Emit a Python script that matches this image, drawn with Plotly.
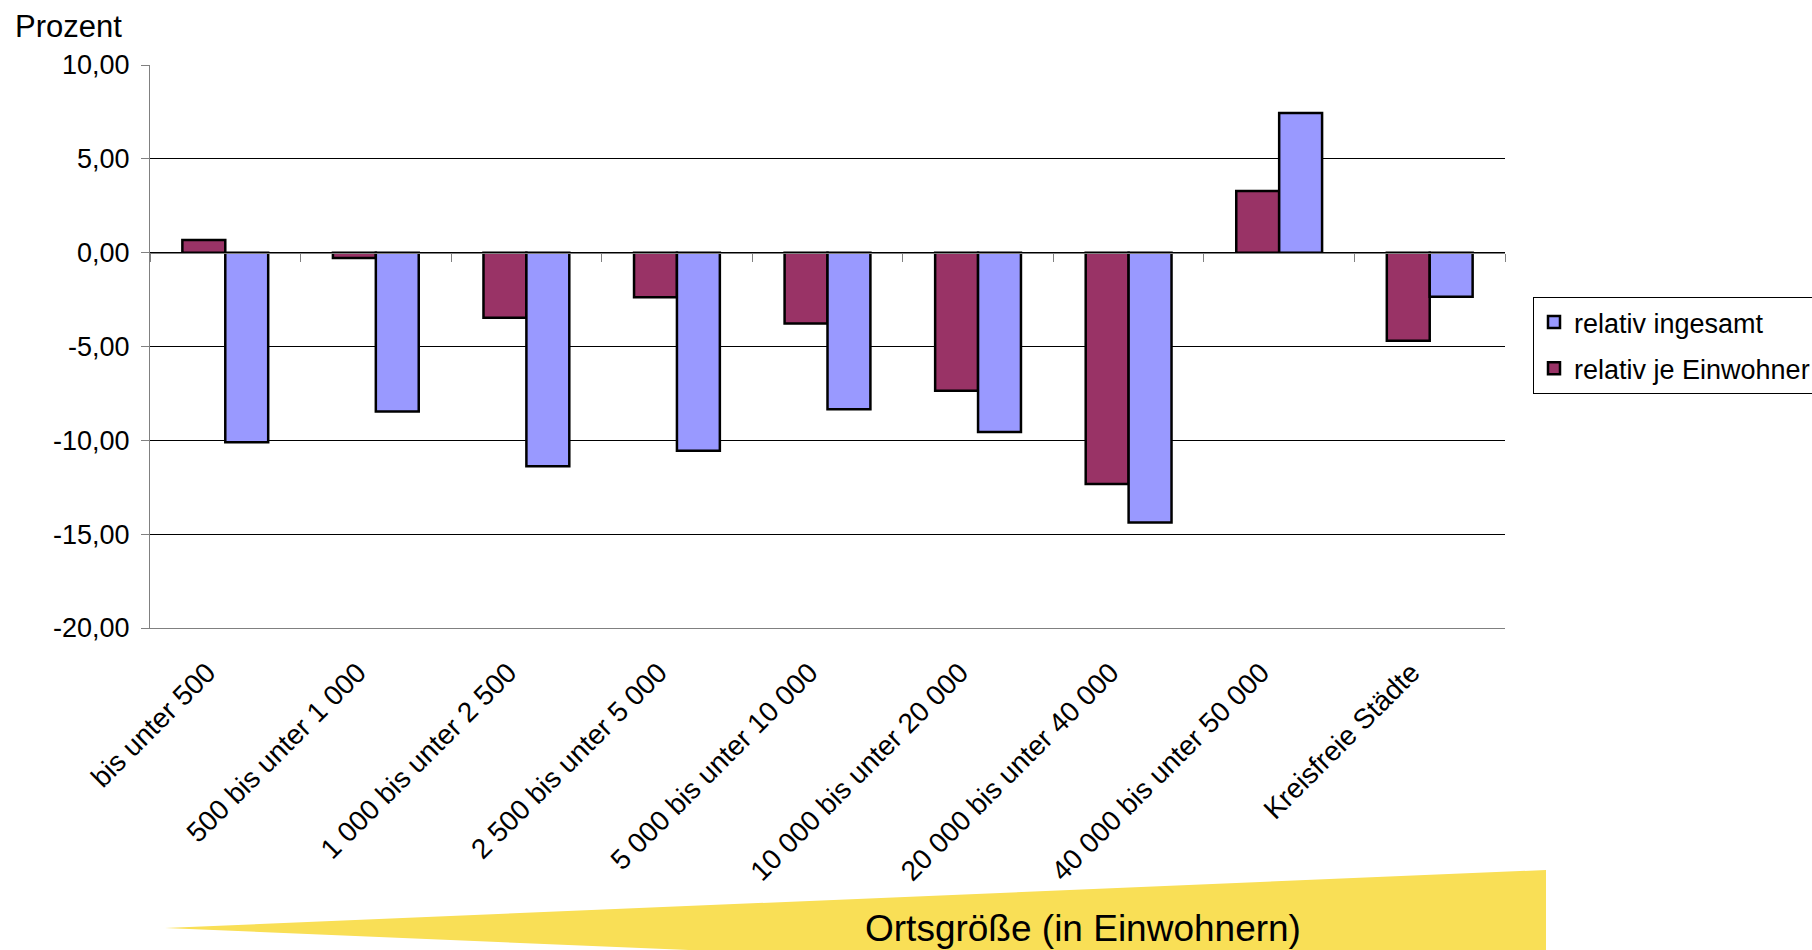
import plotly.graph_objects as go

# Category labels (town size classes)
categories = [
    "bis unter 500",
    "500 bis unter 1 000",
    "1 000 bis unter 2 500",
    "2 500 bis unter 5 000",
    "5 000 bis unter 10 000",
    "10 000 bis unter 20 000",
    "20 000 bis unter 40 000",
    "40 000 bis unter 50 000",
    "Kreisfreie Städte",
]

# Percentage change per series
je_einwohner = [0.68, -0.29, -3.47, -2.38, -3.78, -7.36, -12.33, 3.28, -4.70]
ingesamt = [-10.10, -8.47, -11.38, -10.55, -8.35, -9.55, -14.38, 7.44, -2.35]

# Y axis ticks
y_tickvals = [10, 5, 0, -5, -10, -15, -20]
y_ticktext = ["10,00", "5,00", "0,00", "-5,00", "-10,00", "-15,00", "-20,00"]

W, H = 1812, 950
PLOT_L, PLOT_R, PLOT_T, PLOT_B = 150, 1505, 65, 628
FONT = "Liberation Sans, Arial, sans-serif"


def px(x):
    return (x - PLOT_L) / (PLOT_R - PLOT_L)


def py(y):
    return (PLOT_B - y) / (PLOT_B - PLOT_T)


fig = go.Figure()
fig.add_trace(go.Bar(
    x=categories, y=je_einwohner, name="relativ je Einwohner",
    marker=dict(color="#993366", line=dict(color="#000000", width=2.5)),
    legendgroup="b", legendrank=2,
))
fig.add_trace(go.Bar(
    x=categories, y=ingesamt, name="relativ ingesamt",
    marker=dict(color="#9999FF", line=dict(color="#000000", width=2.5)),
    legendgroup="a", legendrank=1,
))
# invisible helper trace so the category axis through zero gets its ticks
fig.add_trace(go.Scatter(
    x=categories, y=[0] * len(categories), xaxis="x2", mode="markers",
    marker=dict(opacity=0), showlegend=False, hoverinfo="skip",
))

# yellow wedge below the chart with its caption
tip = (165, 928)
top_right = (1546, 870)
bot_right = (1546, 986)
path = "M {} {} L {} {} L {} {} Z".format(
    px(tip[0]), py(tip[1]), px(top_right[0]), py(top_right[1]),
    px(bot_right[0]), py(bot_right[1]))
fig.add_shape(type="path", path=path, xref="paper", yref="paper",
              fillcolor="#F9DF56", line=dict(width=0), layer="below")

fig.add_annotation(text="Ortsgröße (in Einwohnern)", xref="paper", yref="paper",
                   x=px(1083), y=py(928), xanchor="center", yanchor="middle",
                   showarrow=False, font=dict(size=37, color="#000000", family=FONT))
fig.add_annotation(text="Prozent", xref="paper", yref="paper",
                   x=px(13), y=py(26), xanchor="left", yanchor="middle",
                   showarrow=False, font=dict(size=31, color="#000000", family=FONT))

fig.update_layout(
    width=W, height=H,
    margin=dict(l=PLOT_L, r=W - PLOT_R, t=PLOT_T, b=H - PLOT_B, autoexpand=False),
    paper_bgcolor="#FFFFFF", plot_bgcolor="#FFFFFF",
    font=dict(family=FONT, size=27, color="#000000"),
    barmode="group", bargap=0.43, bargroupgap=0,
    showlegend=True,
    legend=dict(
        x=px(1533), y=py(297), xanchor="left", yanchor="top",
        bgcolor="#FFFFFF", bordercolor="#000000", borderwidth=1,
        font=dict(size=27, family=FONT), traceorder="grouped",
        tracegroupgap=8,
    ),
    xaxis=dict(
        type="category", categoryorder="array", categoryarray=categories,
        range=[-0.5, len(categories) - 0.5],
        tickangle=-45, ticks="", showline=True, linecolor="#808080", linewidth=1,
        showgrid=False, tickfont=dict(size=28), ticklabelstandoff=16,
        ticklabelshift=-18,
    ),
    xaxis2=dict(
        type="category", categoryorder="array", categoryarray=categories,
        range=[-0.5, len(categories) - 0.5],
        overlaying="x", anchor="free", position=20 / 30, side="bottom",
        tickson="boundaries", ticks="outside", ticklen=8, tickcolor="#808080",
        showline=True, linecolor="#808080", linewidth=1,
        showticklabels=False, showgrid=False,
    ),
    yaxis=dict(
        range=[-20, 10], tickvals=y_tickvals, ticktext=y_ticktext,
        showgrid=True, gridcolor="#000000", gridwidth=1, zeroline=False,
        showline=True, linecolor="#808080", linewidth=1,
        ticks="outside", ticklen=8, tickcolor="#808080",
        tickfont=dict(size=27), ticklabelstandoff=6,
    ),
)

fig.write_html("out.html")
